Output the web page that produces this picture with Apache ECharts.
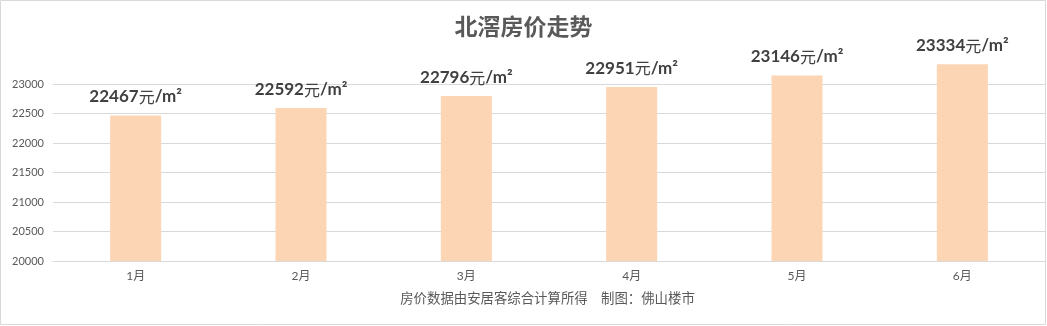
<!DOCTYPE html>
<html><head><meta charset="utf-8">
<script src="https://cdn.jsdelivr.net/npm/echarts@6/dist/echarts.min.js"></script>
<style>html,body{margin:0;padding:0;background:#fff}#c{width:1047px;height:326px}</style>
</head><body><div id="c"></div>
<script>
const titleText = '北滘房价走势';
const categories = ['1月','2月','3月','4月','5月','6月'];
const prices = [22467, 22592, 22796, 22951, 23146, 23334];
const unitText = '元';
const areaText = '/m²';
const footerText = '房价数据由安居客综合计算所得\u3000制图：佛山楼市';
const yTicks = [20000, 20500, 21000, 21500, 22000, 22500, 23000];
const yMin = 20000, yMax = 23500, yStep = 500;

const FONT = "Lato, 'Noto Sans CJK SC', sans-serif";
const yTop = yTicks[yTicks.length - 1];
const chart = echarts.init(document.getElementById('c'));
chart.setOption({
  backgroundColor: '#fff',
  animation: false,
  title: {
    text: titleText, left: 'center', top: 10,
    textStyle: { fontFamily: "'Noto Sans CJK SC', sans-serif", fontSize: 23, fontWeight: 'bold', color: '#595959' }
  },
  graphic: [
    { type: 'rect', shape: { x: 0.5, y: 0.5, width: 1045, height: 324 }, style: { fill: 'none', stroke: '#D9D9D9', lineWidth: 1 }, silent: true },
    { type: 'text', x: 547.5, y: 298, style: { text: footerText, fill: '#595959', font: "13.4px 'Noto Sans CJK SC', sans-serif", textAlign: 'center', textVerticalAlign: 'middle' } }
  ],
  grid: { left: 53, right: 2, top: 54.5, bottom: 65, containLabel: false },
  xAxis: {
    type: 'category', data: categories,
    axisLine: { show: true, lineStyle: { color: '#D9D9D9' } },
    axisTick: { show: false },
    axisLabel: { color: '#595959', fontSize: 12, fontFamily: FONT, margin: 9 }
  },
  yAxis: {
    type: 'value', min: yMin, max: yMax, interval: yStep,
    axisLine: { show: false }, axisTick: { show: false },
    splitLine: { show: false },
    axisLabel: { color: '#595959', fontSize: 11, fontFamily: FONT, margin: 9,
      formatter: v => (v > yTop ? '' : String(v)) }
  },
  series: [{
    type: 'bar', data: prices, barWidth: 51,
    itemStyle: { color: '#FCD5B4' },
    label: {
      show: true, position: 'top', distance: 10,
      formatter: p => '{n|' + p.value + '}{u|' + unitText + '}{m|' + areaText + '}',
      rich: {
        n: { fontFamily: FONT, fontSize: 17, fontWeight: 'bold', color: '#404040' },
        u: { fontFamily: "'Noto Sans CJK SC', sans-serif", fontSize: 16, color: '#404040' },
        m: { fontFamily: FONT, fontSize: 17, fontWeight: 'bold', color: '#404040' }
      }
    },
    markLine: {
      silent: true, symbol: 'none', z: 0,
      label: { show: false },
      lineStyle: { color: '#D9D9D9', type: 'solid', width: 1 },
      emphasis: { disabled: true },
      data: yTicks.map(v => ({ yAxis: v }))
    }
  }]
});
</script></body></html>
